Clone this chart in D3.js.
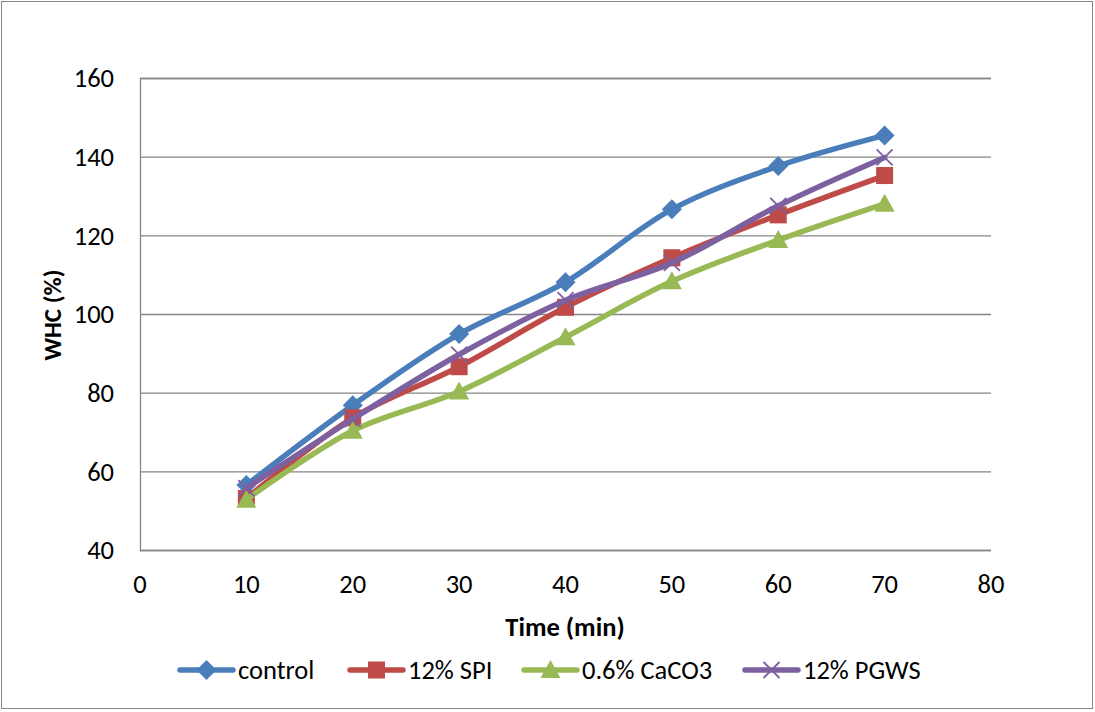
<!DOCTYPE html>
<html>
<head>
<meta charset="utf-8">
<script src="https://d3js.org/d3.v7.min.js"></script>
<style>
  body { margin: 0; background: #fff; }
  text { font-family: Carlito, Calibri, "Liberation Sans", sans-serif; fill: #000; }
</style>
</head>
<body>
<svg id="chart" width="1095" height="712"></svg>
<script>
// data
var times = [10, 20, 30, 40, 50, 60, 70];
var control = [56.5, 76.8, 94.9, 108.1, 126.6, 137.6, 145.4];
var spi = [53.1, 73.6, 86.6, 101.7, 114.3, 125.2, 135.2];
var caco3 = [52.8, 70.3, 80.3, 94.1, 108.3, 118.8, 128.0];
var pgws = [55.7, 73.3, 89.7, 103.5, 113.0, 127.5, 139.8];
var seriesNames = ["control", "12% SPI", "0.6% CaCO3", "12% PGWS"];
var xTicks = [0, 10, 20, 30, 40, 50, 60, 70, 80];
var yTicks = [40, 60, 80, 100, 120, 140, 160];

var colors = ["#4a7ebb", "#be4b48", "#98b954", "#7d60a0"];
var markers = ["diamond", "square", "triangle", "x"];
var allSeries = [control, spi, caco3, pgws];

var svg = d3.select("#chart");

// outer frame
svg.append("rect").attr("x", 1.5).attr("y", 1.5).attr("width", 1091).attr("height", 707)
  .attr("fill", "none").attr("stroke", "#868686").attr("stroke-width", 1);

var plotLeft = 140, plotRight = 991, plotTop = 78, plotBottom = 550;
var x = d3.scaleLinear().domain([0, 80]).range([plotLeft, plotRight]);
var y = d3.scaleLinear().domain([40, 160]).range([plotBottom, plotTop]);

// gridlines (y axis ticks become horizontal lines)
svg.append("g")
  .call(d3.axisLeft(y).tickValues(yTicks).tickSize(-(plotRight - plotLeft)).tickFormat(""))
  .attr("transform", "translate(" + plotLeft + ",0)")
  .call(function(g) {
    g.select(".domain").attr("stroke", "#868686").attr("stroke-width", 1.3);
    g.selectAll(".tick line").attr("stroke", "#868686").attr("stroke-width", 1.3);
  });

// tick labels
svg.append("g").selectAll("text").data(yTicks).enter().append("text")
  .attr("x", plotLeft - 26).attr("y", function(d) { return y(d); })
  .attr("dy", "0.35em").attr("text-anchor", "end").attr("font-size", 26.5)
  .text(function(d) { return d; });

svg.append("g").selectAll("text").data(xTicks).enter().append("text")
  .attr("x", function(d) { return x(d); }).attr("y", 584)
  .attr("dy", "0.35em").attr("text-anchor", "middle").attr("font-size", 26.5)
  .text(function(d) { return d; });

// axis titles
svg.append("text").attr("x", 565).attr("y", 627).attr("dy", "0.35em")
  .attr("text-anchor", "middle").attr("font-size", 26.5).attr("font-weight", "bold")
  .text("Time (min)");
svg.append("text").attr("transform", "translate(52,315) rotate(-90)")
  .attr("dy", "0.35em").attr("text-anchor", "middle").attr("font-size", 25).attr("font-weight", "bold")
  .text("WHC (%)");

function drawMarker(g, type, color, cx, cy, s) {
  if (type == "diamond") {
    g.append("path").attr("d", "M" + cx + "," + (cy - s) + "L" + (cx + s) + "," + cy + "L" + cx + "," + (cy + s) + "L" + (cx - s) + "," + cy + "Z")
      .attr("fill", color);
  } else if (type == "square") {
    g.append("rect").attr("x", cx - s * 0.85).attr("y", cy - s * 0.85)
      .attr("width", s * 1.7).attr("height", s * 1.7).attr("fill", color);
  } else if (type == "triangle") {
    g.append("path").attr("d", "M" + cx + "," + (cy - s) + "L" + (cx + s) + "," + (cy + s * 0.8) + "L" + (cx - s) + "," + (cy + s * 0.8) + "Z")
      .attr("fill", color);
  } else {
    var k = s * 0.8;
    g.append("path").attr("d", "M" + (cx - k) + "," + (cy - k) + "L" + (cx + k) + "," + (cy + k) + "M" + (cx + k) + "," + (cy - k) + "L" + (cx - k) + "," + (cy + k))
      .attr("stroke", color).attr("stroke-width", 1.8).attr("fill", "none");
  }
}

var line = d3.line()
  .x(function(d, i) { return x(times[i]); })
  .y(function(d) { return y(d); })
  .curve(d3.curveCatmullRom.alpha(0.5));

allSeries.forEach(function(vals, si) {
  var g = svg.append("g");
  g.append("path").datum(vals).attr("d", line)
    .attr("fill", "none").attr("stroke", colors[si]).attr("stroke-width", 5.5)
    .attr("stroke-linejoin", "round").attr("stroke-linecap", "round");
  vals.forEach(function(v, i) {
    drawMarker(g, markers[si], colors[si], x(times[i]), y(v), 10);
  });
});

// legend
var legendX = [180, 350, 524, 745];
var legendY = 670;
seriesNames.forEach(function(name, si) {
  var g = svg.append("g");
  g.append("line").attr("x1", legendX[si]).attr("x2", legendX[si] + 53)
    .attr("y1", legendY).attr("y2", legendY)
    .attr("stroke", colors[si]).attr("stroke-width", 5.5).attr("stroke-linecap", "round");
  drawMarker(g, markers[si], colors[si], legendX[si] + 26.5, legendY, 10);
  g.append("text").attr("x", legendX[si] + 58).attr("y", legendY).attr("dy", "0.35em")
    .attr("font-size", 26.5).text(name);
});
</script>
</body>
</html>
